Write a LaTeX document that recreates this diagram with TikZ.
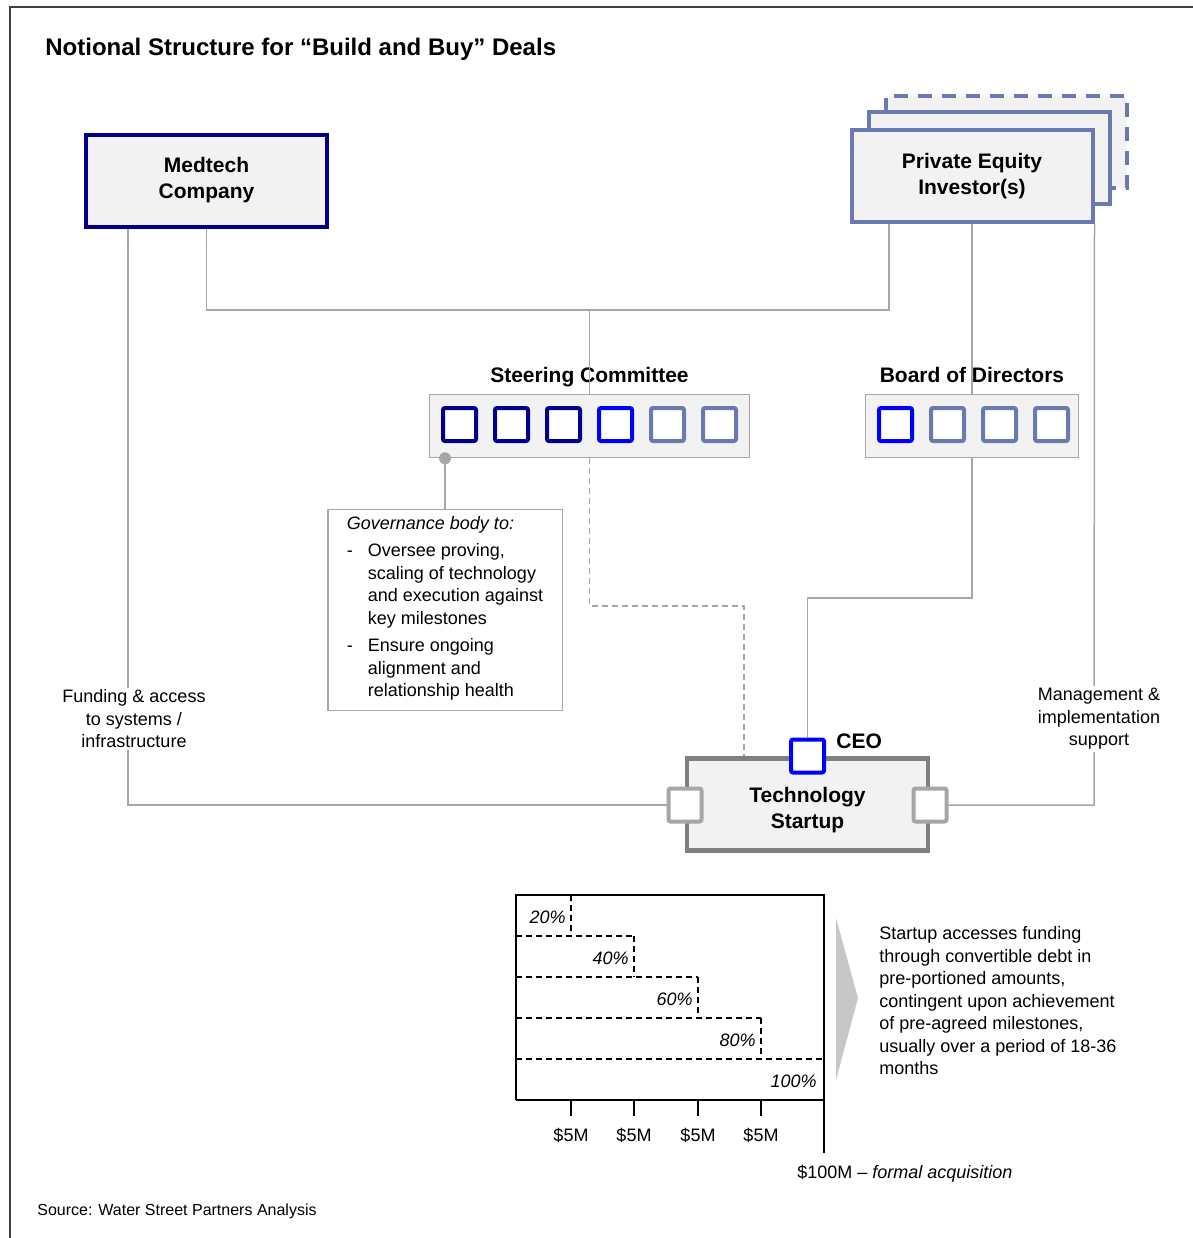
\documentclass[tikz,border=0pt]{standalone}
\usepackage{fontspec}
\setmainfont{Liberation Sans}
\usetikzlibrary{positioning}
\definecolor{medblue}{RGB}{0,0,140}
\definecolor{peblue}{RGB}{106,121,176}
\definecolor{ceoblue}{RGB}{0,0,255}
\definecolor{linegray}{RGB}{166,166,166}
\definecolor{boxfill}{RGB}{242,242,242}
\definecolor{tsgray}{RGB}{128,128,128}
\definecolor{framegray}{RGB}{64,64,64}
\newcommand{\bodyfont}{\fontsize{9}{11.25}\selectfont}
\newcommand{\boxfont}{\fontsize{10.5}{13}\selectfont\bfseries}

\begin{document}
\begin{tikzpicture}[x=0.5pt,y=-0.5pt,
  party/.style={draw, line width=2pt, fill=boxfill, minimum width=120.5pt, minimum height=46pt, align=center, font=\boxfont},
  panel/.style={draw=linegray, line width=0.75pt, fill=boxfill, minimum height=31.5pt},
  seat/.style={draw, line width=2pt, fill=white, minimum size=16.5pt, rounded corners=1pt, inner sep=0pt},
  link/.style={draw=linegray, line width=0.75pt},
  note/.style={font=\bodyfont, align=center, inner sep=1pt},
  head/.style={font=\boxfont, inner sep=0pt, text height=8pt, text depth=2.2pt},
  chart/.style={line width=0.7pt},
  stepline/.style={line width=0.6pt, dash pattern=on 3pt off 2pt},
  node distance=4pt]
  \useasboundingbox (0,0) rectangle (1193,1238);
  \draw[framegray, line width=1pt] (10,1238) -- (10,7) -- (1193,7);
  \node[anchor=west, inner sep=0pt, font=\fontsize{12}{14}\selectfont\bfseries] (title) at (45,49) {Notional Structure for “Build and Buy” Deals};

  % parties
  \node[party, draw=medblue] (med) at (206.5,180.5) {Medtech\\Company};
  \node[party, draw=peblue, dash pattern=on 7pt off 5pt] (pe3) at (1006,142) {};
  \node[party, draw=peblue] (pe2) at (989,158) {};
  \node[party, draw=peblue] (pe) at (972,176) {Private Equity\\Investor(s)};

  % governance panels
  \node[panel, minimum width=160pt] (sc) at (589.5,426) {};
  \node[head, above=3pt of sc] (sclbl) {Steering Committee};
  \foreach \c [count=\i from 0] in {medblue,medblue,medblue,ceoblue,peblue,peblue}
    \node[seat, draw=\c] (sc\i) at ({459.5+52*\i},424.5) {};
  \node[panel, minimum width=106.5pt] (bod) at (972,426) {};
  \node[head, above=3pt of bod] (bodlbl) {Board of Directors};
  \foreach \c [count=\i from 0] in {ceoblue,peblue,peblue,peblue}
    \node[seat, draw=\c] (bod\i) at ({895.5+52*\i},424.5) {};

  \node[draw=linegray, line width=0.75pt, fill=white, minimum width=117.25pt, minimum height=99pt, align=left, font=\bodyfont] (gov) at (445,610) {%
    {\itshape Governance body to:}\\[2.5pt]
    \begin{tabular}[t]{@{}p{10.5pt}@{}l@{}}
    - & Oversee proving,\\
      & scaling of technology\\
      & and execution against\\
      & key milestones\\[2.5pt]
    - & Ensure ongoing\\
      & alignment  and\\
      & relationship health
    \end{tabular}};

  % startup
  \coordinate (fundx) at (128,805);
  \coordinate (mgmtx) at (1094,805);
  \coordinate (pejoin) at (889,310);
  \coordinate (scjoin) at (589.5,310);
  \coordinate (dashbend) at (744,606);
  \coordinate (ceobend) at (972,598);
  \node[party, draw=tsgray, line width=2.2pt] (ts) at (807.5,804.5) {\rule{0pt}{13pt}Technology\\Startup};
  \node[seat, draw=ceoblue] (ceo) at (807.5,756) {};
  \node[head, anchor=west] (ceolbl) at (836,743) {CEO};
  \node[seat, draw=linegray] (lsq) at (685,805) {};
  \node[seat, draw=linegray] (rsq) at (930,805) {};

  % connectors
  \draw[link] (med.south -| fundx) -- (fundx) -- (lsq.west);
  \draw[link] (med.south) |- (pejoin) -- (pejoin |- pe.south);
  \draw[link] (scjoin) -- (sc.north);
  \draw[link] (pe.south) -- (bod.north);
  \draw[link] (pe.south east) -- (mgmtx) -- (rsq.east);
  \draw[link] (bod.south) -- (ceobend) -| (ceo.north);
  \draw[link, dash pattern=on 3pt off 2pt] (sc.south) |- (dashbend) -- (dashbend |- ts.north);
  \coordinate (dot) at (sc.south -| gov.north);
  \draw[link] (dot) -- (gov.north);
  \fill[linegray] (dot) circle (3pt);
  \node[note, fill=white] (fund) at (134,719) {Funding  \& access\\to systems /\\infrastructure};
  \node[note, fill=white] (mgmt) at (1099,719) {Management  \&\\implementation\\support};

  % funding chart
  \draw[chart] (516,1100) -- (516,895) -- (824,895) -- (824,1153);
  \draw[chart] (516,1100) -- (824,1100);
  \foreach \x/\y/\nx/\p in {571/895/634/20, 634/936/698/40, 698/977/761/60, 761/1018/824/80} {
    \draw[stepline] (\x,\y) -- (\x,{\y+41});
    \draw[stepline] (516,{\y+41}) -- (\nx,{\y+41});
    \node[font=\bodyfont\itshape, anchor=east, inner sep=0pt] (pct\p) at ({\x-5},{\y+22}) {\p\%};
  }
  \node[font=\bodyfont\itshape, anchor=east, inner sep=0pt] (pct100) at (817,1081) {100\%};
  \foreach \x [count=\i] in {571,634,698,761} {
    \draw[chart] (\x,1100) -- (\x,1116);
    \node[font=\bodyfont, inner sep=0pt] (amt\i) at (\x,1135) {\$5M};
  }
  \node[font=\bodyfont, anchor=west, inner sep=0pt] (acq) at (797,1174) {\$100M – \textit{formal acquisition}};
  \fill[black!22] (836,918) -- (858,998) -- (836,1080) -- cycle;
  \node[font=\bodyfont, align=left, anchor=west, inner sep=0pt] (terms) at (879,1001) {Startup accesses funding\\through  convertible debt in\\pre-portioned  amounts,\\contingent  upon achievement\\of pre-agreed  milestones,\\usually  over a period of 18-36\\months};

  \node[anchor=west, inner sep=0pt, font=\fontsize{8}{10}\selectfont] (src) at (37,1211) {Source: Water Street Partners Analysis};
\end{tikzpicture}
\end{document}
